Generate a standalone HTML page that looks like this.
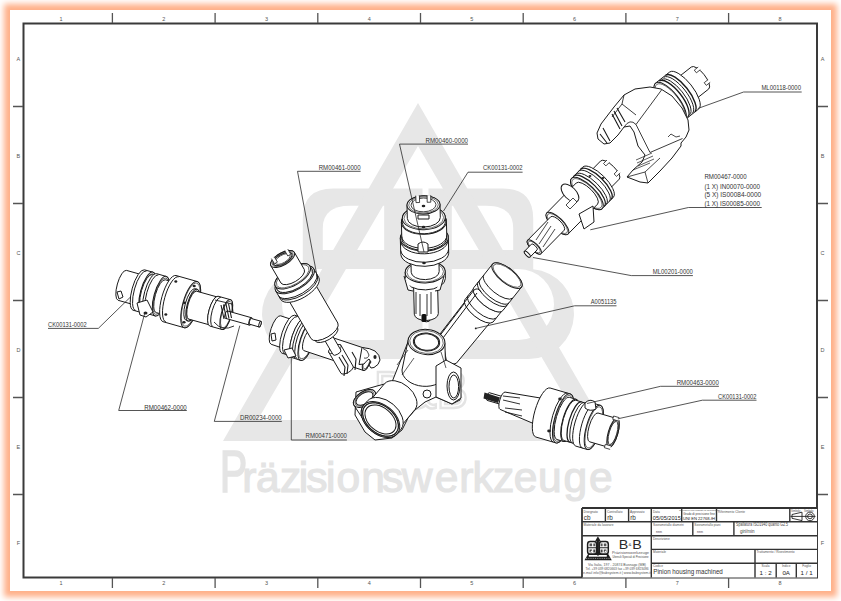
<!DOCTYPE html>
<html><head><meta charset="utf-8">
<style>
html,body{margin:0;padding:0;background:#fff;width:841px;height:601px;overflow:hidden;}
#paper{position:absolute;left:10px;top:10px;width:821px;height:581px;background:#fff;
box-shadow:0 0 6px 6px rgb(255,176,137);}
svg{position:absolute;left:0;top:0;}
text{font-family:"Liberation Sans",sans-serif;}
</style></head><body>
<div id="paper"></div>
<svg width="841" height="601" viewBox="0 0 841 601">
<!-- WATERMARK -->
<g id="wm" fill="#e7e7e7">
<!-- B region -->
<path d="M418 188.5H333Q302.8 188.5 302.8 218.5V269.2A45 45 0 0 0 307 359H529A45 45 0 0 0 533.2 269.2V218.5Q533.2 188.5 503 188.5Z"/>
<g fill="#fff">
<path d="M350 205.7H384.2V250H322.8V228Q322.8 205.7 350 205.7Z"/>
<path d="M486 205.7H451.8V250H513.2V228Q513.2 205.7 486 205.7Z"/>
<path d="M384.2 269H317.5A35.5 35.5 0 0 0 317.5 340H384.2Z"/>
<path d="M451.8 269H518.5A35.5 35.5 0 0 1 518.5 340H451.8Z"/>
<rect x="422.5" y="186" width="6" height="173"/>
</g>
<!-- triangle band -->
<path fill-rule="evenodd" d="M418 103L613 441H223Z M418 146L257.6 420H578.4Z"/>
<!-- 1985 -->
<text x="421" y="408" font-size="52" text-anchor="middle" fill="none" stroke="#e4e4e4" stroke-width="2.5" textLength="94" lengthAdjust="spacingAndGlyphs">B&amp;B</text>
<!-- text -->
<g fill="#e4e4e4" stroke="#e4e4e4" stroke-width="1.2" text-anchor="middle" font-size="42.5">
<text x="0" y="0" font-size="59" stroke-width="1.6" transform="translate(233.6 492) scale(0.7 1)">P</text>
<text x="249.25" y="492">r</text>
<text x="267.9" y="492">ä</text>
<text x="290.55" y="492">z</text>
<text x="303.55" y="492">i</text>
<text x="316.95" y="492">s</text>
<text x="330.65" y="492">i</text>
<text x="348.2" y="492">o</text>
<text x="373.1" y="492">n</text>
<text x="392.5" y="492">s</text>
<text x="417.15" y="492">w</text>
<text x="446.6" y="492">e</text>
<text x="466.25" y="492">r</text>
<text x="483.1" y="492">k</text>
<text x="503.6" y="492">z</text>
<text x="525.6" y="492">e</text>
<text x="549.7" y="492">u</text>
<text x="575.2" y="492">g</text>
<text x="600.75" y="492">e</text>
</g>
</g>
<!-- FRAME -->
<g id="frame" fill="none" stroke="#3a3a3a">
<rect x="23.5" y="23.5" width="793.5" height="554" stroke-width="2"/>
<g stroke="#555" stroke-width="1.3">
<path d="M112.4 13V23M215.1 13V23M317.8 13V23M420.5 13V23M523.2 13V23M625.9 13V23M728.6 13V23"/>
<path d="M112.4 578V588M215.1 578V588M317.8 578V588M420.5 578V588M523.2 578V588M625.9 578V588M728.6 578V588"/>
<path d="M13 106.5H23M13 203.5H23M13 300.5H23M13 397.5H23M13 494.5H23"/>
<path d="M818 106.5H828M818 203.5H828M818 300.5H828M818 397.5H828M818 494.5H828"/>
</g>
</g>
<g id="zonelabels" font-size="5.5" fill="#555" text-anchor="middle">
<text x="61.1" y="20.6">1</text><text x="163.8" y="20.6">2</text><text x="266.5" y="20.6">3</text><text x="369.2" y="20.6">4</text>
<text x="471.9" y="20.6">5</text><text x="574.6" y="20.6">6</text><text x="677.3" y="20.6">7</text><text x="780" y="20.6">8</text>
<text x="61.1" y="584.8">1</text><text x="163.8" y="584.8">2</text><text x="266.5" y="584.8">3</text><text x="369.2" y="584.8">4</text>
<text x="471.9" y="584.8">5</text><text x="574.6" y="584.8">6</text><text x="677.3" y="584.8">7</text><text x="780" y="584.8">8</text>
<text x="18.4" y="60.5">A</text><text x="18.4" y="157.5">B</text><text x="18.4" y="254.5">C</text><text x="18.4" y="351.5">D</text><text x="18.4" y="448.5">E</text><text x="18.4" y="544.5">F</text>
<text x="822.5" y="60.5">A</text><text x="822.5" y="157.5">B</text><text x="822.5" y="254.5">C</text><text x="822.5" y="351.5">D</text><text x="822.5" y="448.5">E</text><text x="822.5" y="544.5">F</text>
</g>
<!--PARTS-->
<g id="parts">
<path d="M118.1 300.3L134.5 304.9A5.1 15.5 15.7 0 0 142.9 275L126.5 270.4A5.1 15.5 15.7 0 0 118.1 300.3Z" fill="#fff" stroke="#1a1a1a" stroke-width="1.0"/>
<ellipse cx="138.7" cy="290" rx="5.1" ry="15.5" transform="rotate(15.7 138.7 290)" fill="#fff" stroke="#1a1a1a" stroke-width="1.0"/>
<ellipse cx="138.7" cy="290" rx="4.6" ry="13.8" transform="rotate(15.7 138.7 290)" fill="none" stroke="#1a1a1a" stroke-width="0.6"/>
<path d="M133 310.2L141.7 312.6A6.9 21 15.7 0 0 153 272.2L144.4 269.8A6.9 21 15.7 0 0 133 310.2Z" fill="#fff" stroke="#1a1a1a" stroke-width="1.0"/>
<ellipse cx="147.4" cy="292.4" rx="6.9" ry="21" transform="rotate(15.7 147.4 292.4)" fill="#fff" stroke="#1a1a1a" stroke-width="1.0"/>
<ellipse cx="147.4" cy="292.4" rx="6.4" ry="19.3" transform="rotate(15.7 147.4 292.4)" fill="none" stroke="#1a1a1a" stroke-width="0.6"/>
<path d="M142.3 310.2L146.2 311.3A6.1 18.5 15.7 0 0 156.2 275.7L152.4 274.6A6.1 18.5 15.7 0 0 142.3 310.2Z" fill="#fff" stroke="#1a1a1a" stroke-width="1.0"/>
<ellipse cx="151.2" cy="293.5" rx="6.1" ry="18.5" transform="rotate(15.7 151.2 293.5)" fill="#fff" stroke="#1a1a1a" stroke-width="1.0"/>
<ellipse cx="151.2" cy="293.5" rx="5.5" ry="16.8" transform="rotate(15.7 151.2 293.5)" fill="none" stroke="#1a1a1a" stroke-width="0.6"/>
<path d="M145.7 313.2L155.3 315.9A6.8 20.5 15.7 0 0 166.4 276.5L156.8 273.7A6.8 20.5 15.7 0 0 145.7 313.2Z" fill="#fff" stroke="#1a1a1a" stroke-width="1.0"/>
<ellipse cx="160.8" cy="296.2" rx="6.8" ry="20.5" transform="rotate(15.7 160.8 296.2)" fill="#fff" stroke="#1a1a1a" stroke-width="1.0"/>
<ellipse cx="160.8" cy="296.2" rx="6.2" ry="18.8" transform="rotate(15.7 160.8 296.2)" fill="none" stroke="#1a1a1a" stroke-width="0.6"/>
<path d="M156.2 312.6L164.9 315A5.6 17 15.7 0 0 174.1 282.3L165.4 279.8A5.6 17 15.7 0 0 156.2 312.6Z" fill="#fff" stroke="#1a1a1a" stroke-width="1.0"/>
<ellipse cx="169.5" cy="298.6" rx="5.6" ry="17" transform="rotate(15.7 169.5 298.6)" fill="#fff" stroke="#1a1a1a" stroke-width="1.0"/>
<ellipse cx="169.5" cy="298.6" rx="5" ry="15.3" transform="rotate(15.7 169.5 298.6)" fill="none" stroke="#1a1a1a" stroke-width="0.6"/>
<path d="M163 321.7L184.2 327.7A7.9 24 15.7 0 0 197.2 281.5L176 275.5A7.9 24 15.7 0 0 163 321.7Z" fill="#fff" stroke="#1a1a1a" stroke-width="1.0"/>
<ellipse cx="190.7" cy="304.6" rx="7.9" ry="24" transform="rotate(15.7 190.7 304.6)" fill="#fff" stroke="#1a1a1a" stroke-width="1.0"/>
<ellipse cx="190.7" cy="304.6" rx="7.4" ry="22.3" transform="rotate(15.7 190.7 304.6)" fill="none" stroke="#1a1a1a" stroke-width="0.6"/>
<path d="M186.2 320.5L188.1 321A5.4 16.5 15.7 0 0 197.1 289.2L195.1 288.7A5.4 16.5 15.7 0 0 186.2 320.5Z" fill="#fff" stroke="#1a1a1a" stroke-width="1.0"/>
<ellipse cx="192.6" cy="305.1" rx="5.4" ry="16.5" transform="rotate(15.7 192.6 305.1)" fill="#fff" stroke="#1a1a1a" stroke-width="1.0"/>
<ellipse cx="192.6" cy="305.1" rx="4.9" ry="14.8" transform="rotate(15.7 192.6 305.1)" fill="none" stroke="#1a1a1a" stroke-width="0.6"/>
<path d="M188.7 319.1L209.9 325A4.8 14.5 15.7 0 0 217.7 297.1L196.5 291.2A4.8 14.5 15.7 0 0 188.7 319.1Z" fill="#fff" stroke="#1a1a1a" stroke-width="1.0"/>
<ellipse cx="213.8" cy="311.1" rx="4.8" ry="14.5" transform="rotate(15.7 213.8 311.1)" fill="#fff" stroke="#1a1a1a" stroke-width="1.0"/>
<ellipse cx="213.8" cy="311.1" rx="4.2" ry="12.8" transform="rotate(15.7 213.8 311.1)" fill="none" stroke="#1a1a1a" stroke-width="0.6"/>
<path d="M209.6 326L222.1 329.5A5.1 15.5 15.7 0 0 230.5 299.7L218 296.2A5.1 15.5 15.7 0 0 209.6 326Z" fill="#fff" stroke="#1a1a1a" stroke-width="1.0"/>
<ellipse cx="226.3" cy="314.6" rx="5.1" ry="15.5" transform="rotate(15.7 226.3 314.6)" fill="#fff" stroke="#1a1a1a" stroke-width="1.0"/>
<ellipse cx="226.3" cy="314.6" rx="4.6" ry="13.8" transform="rotate(15.7 226.3 314.6)" fill="none" stroke="#1a1a1a" stroke-width="0.6"/>
<path d="M225.3 318.3L249.3 325A1.3 3.8 15.7 0 0 251.4 317.7L227.3 310.9A1.3 3.8 15.7 0 0 225.3 318.3Z" fill="#fff" stroke="#1a1a1a" stroke-width="1.0"/>
<ellipse cx="250.4" cy="321.4" rx="1.3" ry="3.8" transform="rotate(15.7 250.4 321.4)" fill="#fff" stroke="#1a1a1a" stroke-width="1.0"/>
<path d="M249.6 324.2L259.2 327A1 3 15.7 0 0 260.8 321.2L251.2 318.5A1 3 15.7 0 0 249.6 324.2Z" fill="#fff" stroke="#1a1a1a" stroke-width="1.0"/>
<ellipse cx="260" cy="324.1" rx="1" ry="3" transform="rotate(15.7 260 324.1)" fill="#fff" stroke="#1a1a1a" stroke-width="1.0"/>
<path d="M135.6 310.4A6.8 20.5 15.7 0 1 146.6 270.9" fill="none" stroke="#1a1a1a" stroke-width="1.0"/>
<path d="M147.7 313.3A6.6 20 15.7 0 1 158.5 274.8" fill="none" stroke="#1a1a1a" stroke-width="1.0"/>
<path d="M166 322.1A7.8 23.5 15.7 0 1 178.7 276.8" fill="none" stroke="#1a1a1a" stroke-width="1.0"/>
<path d="M212.6 326.5A5 15.2 15.7 0 1 220.8 297.3" fill="none" stroke="#1a1a1a" stroke-width="1.0"/>
<ellipse cx="194.2" cy="286" rx="1.6" ry="1.3" fill="#222"/>
<ellipse cx="184.5" cy="302.8" rx="1.6" ry="1.3" fill="#222"/>
<ellipse cx="184" cy="322.3" rx="1.6" ry="1.3" fill="#222"/>
<ellipse cx="175.8" cy="281.5" rx="1.5" ry="1.2" fill="#222"/><ellipse cx="165.8" cy="314.5" rx="1.5" ry="1.2" fill="#222"/>
<path d="M117 292L121 291L123 297L119 299Z" fill="#fff" stroke="#1a1a1a" stroke-width="1.0"/>
<path d="M137 303L147 300L153 312L146 317L140 315Z" fill="#fff" stroke="#1a1a1a" stroke-width="1.0"/>
<ellipse cx="145.5" cy="313" rx="2" ry="1.6" fill="#222"/>
<path d="M221 305L224 319M223.5 304.5L226.5 319M226 304L229 318.5M228.5 303.5L231.5 318" fill="none" stroke="#1a1a1a" stroke-width="1.1"/>
<path d="M215 300L232 304L233 312" fill="none" stroke="#1a1a1a" stroke-width="0.9"/>
<path d="M214 322Q222 332 234 326" fill="none" stroke="#1a1a1a" stroke-width="0.9"/>
<path d="M271.2 344.3L283.5 348.4A5 15 18.4 0 0 293 319.9L280.6 315.8A5 15 18.4 0 0 271.2 344.3Z" fill="#fff" stroke="#1a1a1a" stroke-width="1.0"/>
<ellipse cx="288.2" cy="334.1" rx="5" ry="15" transform="rotate(18.4 288.2 334.1)" fill="#fff" stroke="#1a1a1a" stroke-width="1.0"/>
<ellipse cx="288.2" cy="334.1" rx="4.4" ry="13.3" transform="rotate(18.4 288.2 334.1)" fill="none" stroke="#1a1a1a" stroke-width="0.6"/>
<path d="M281.9 353.1L292.3 356.6A6.6 20 18.4 0 0 305 318.6L294.5 315.2A6.6 20 18.4 0 0 281.9 353.1Z" fill="#fff" stroke="#1a1a1a" stroke-width="1.0"/>
<ellipse cx="298.7" cy="337.6" rx="6.6" ry="20" transform="rotate(18.4 298.7 337.6)" fill="#fff" stroke="#1a1a1a" stroke-width="1.0"/>
<ellipse cx="298.7" cy="337.6" rx="6" ry="18.3" transform="rotate(18.4 298.7 337.6)" fill="none" stroke="#1a1a1a" stroke-width="0.6"/>
<path d="M292 357.5L300.6 360.4A6.9 21 18.4 0 0 313.8 320.5L305.3 317.7A6.9 21 18.4 0 0 292 357.5Z" fill="#fff" stroke="#1a1a1a" stroke-width="1.0"/>
<ellipse cx="307.2" cy="340.4" rx="6.9" ry="21" transform="rotate(18.4 307.2 340.4)" fill="#fff" stroke="#1a1a1a" stroke-width="1.0"/>
<ellipse cx="307.2" cy="340.4" rx="6.4" ry="19.3" transform="rotate(18.4 307.2 340.4)" fill="none" stroke="#1a1a1a" stroke-width="0.6"/>
<path d="M303.8 350.6L363.6 370.5A3.5 10.7 18.4 0 0 370.4 350.2L310.6 330.3A3.5 10.7 18.4 0 0 303.8 350.6Z" fill="#fff" stroke="#1a1a1a" stroke-width="1.0"/>
<ellipse cx="367" cy="360.3" rx="3.5" ry="10.7" transform="rotate(18.4 367 360.3)" fill="#fff" stroke="#1a1a1a" stroke-width="1.0"/>
<ellipse cx="367" cy="360.3" rx="3" ry="9" transform="rotate(18.4 367 360.3)" fill="none" stroke="#1a1a1a" stroke-width="0.6"/>
<path d="M284.9 353.6A6.4 19.5 18.4 0 1 297.2 316.6" fill="none" stroke="#1a1a1a" stroke-width="1.0"/>
<path d="M295 358A6.8 20.5 18.4 0 1 308 319.1" fill="none" stroke="#1a1a1a" stroke-width="1.0"/>
<path d="M297.4 358.8A6.8 20.5 18.4 0 1 310.4 319.9" fill="none" stroke="#1a1a1a" stroke-width="1.0"/>
<path d="M271 334L275 333L276 340L272 341Z" fill="#fff" stroke="#1a1a1a" stroke-width="1.0"/>
<path d="M284 350L292 348L296 356L288 358Z" fill="#fff" stroke="#1a1a1a" stroke-width="1.0"/>
<path d="M362 347.5Q370 348 375 351Q380 355 380 360Q379 365 374 367.5L371 368L369 365L371 362L369 359Q366 361 364 364L359 364.5Z" fill="#fff" stroke="#1a1a1a" stroke-width="1.0"/>
<path d="M363 348.5Q368 350 369 355Q368 359 364 358" fill="none" stroke="#1a1a1a" stroke-width="0.8"/>
<ellipse cx="375" cy="357" rx="1.6" ry="2" fill="#222"/>
<path d="M328.9 352.4L340.9 373.2A3.1 7 59.8 0 0 353 366.1L341 345.4A3.1 7 59.8 0 0 328.9 352.4Z" fill="#fff" stroke="#1a1a1a" stroke-width="1.0"/>
<ellipse cx="334.9" cy="348.9" rx="3.1" ry="7" transform="rotate(59.8 334.9 348.9)" fill="#fff" stroke="#1a1a1a" stroke-width="1.0"/>
<path d="M322.5 336.5L333 354.6A2 4.5 59.8 0 0 340.8 350.1L330.3 332A2 4.5 59.8 0 0 322.5 336.5Z" fill="#fff" stroke="#1a1a1a" stroke-width="1.0"/>
<ellipse cx="326.4" cy="334.2" rx="2" ry="4.5" transform="rotate(59.8 326.4 334.2)" fill="#fff" stroke="#1a1a1a" stroke-width="1.0"/>
<path d="M312.3 337.8L315.1 340.8A5.9 13 59.8 0 0 337.6 327.7L336.5 323.7A6.3 14 59.8 0 0 312.3 337.8Z" fill="#fff" stroke="#1a1a1a" stroke-width="1.0"/>
<ellipse cx="324.4" cy="330.8" rx="6.3" ry="14" transform="rotate(59.8 324.4 330.8)" fill="#fff" stroke="#1a1a1a" stroke-width="1.0"/>
<ellipse cx="324.4" cy="330.8" rx="5.5" ry="12.3" transform="rotate(59.8 324.4 330.8)" fill="none" stroke="#1a1a1a" stroke-width="0.6"/>
<path d="M286.3 296.2L311 338.6A7 15.5 59.8 0 0 337.8 323L313.1 280.6A7 15.5 59.8 0 0 286.3 296.2Z" fill="#fff" stroke="#1a1a1a" stroke-width="1.0"/>
<ellipse cx="299.7" cy="288.4" rx="7" ry="15.5" transform="rotate(59.8 299.7 288.4)" fill="#fff" stroke="#1a1a1a" stroke-width="1.0"/>
<ellipse cx="299.7" cy="288.4" rx="6.2" ry="13.8" transform="rotate(59.8 299.7 288.4)" fill="none" stroke="#1a1a1a" stroke-width="0.6"/>
<path d="M275.7 290.8L280.7 299.5A9.9 22 59.8 0 0 318.7 277.3L313.7 268.7A9.9 22 59.8 0 0 275.7 290.8Z" fill="#fff" stroke="#1a1a1a" stroke-width="1.0"/>
<ellipse cx="294.7" cy="279.8" rx="9.9" ry="22" transform="rotate(59.8 294.7 279.8)" fill="#fff" stroke="#1a1a1a" stroke-width="1.0"/>
<ellipse cx="294.7" cy="279.8" rx="9.1" ry="20.3" transform="rotate(59.8 294.7 279.8)" fill="none" stroke="#1a1a1a" stroke-width="0.6"/>
<path d="M275.4 286.4L277.4 289.8A9 20 59.8 0 0 312 269.7L310 266.2A9 20 59.8 0 0 275.4 286.4Z" fill="#fff" stroke="#1a1a1a" stroke-width="1.0"/>
<ellipse cx="292.7" cy="276.3" rx="9" ry="20" transform="rotate(59.8 292.7 276.3)" fill="#fff" stroke="#1a1a1a" stroke-width="1.0"/>
<ellipse cx="292.7" cy="276.3" rx="8.2" ry="18.3" transform="rotate(59.8 292.7 276.3)" fill="none" stroke="#1a1a1a" stroke-width="0.6"/>
<path d="M270.9 265.8L281 283.1A6.1 13.5 59.8 0 0 304.3 269.5L294.3 252.2A6.1 13.5 59.8 0 0 270.9 265.8Z" fill="#fff" stroke="#1a1a1a" stroke-width="1.0"/>
<ellipse cx="282.6" cy="259" rx="6.1" ry="13.5" transform="rotate(59.8 282.6 259)" fill="#fff" stroke="#1a1a1a" stroke-width="1.0"/>
<ellipse cx="282.6" cy="259" rx="5.3" ry="11.8" transform="rotate(59.8 282.6 259)" fill="none" stroke="#1a1a1a" stroke-width="0.6"/>
<ellipse cx="282.6" cy="259" rx="4.7" ry="10.5" transform="rotate(59.8 282.6 259)" fill="#fff" stroke="#1a1a1a" stroke-width="1.0"/>
<ellipse cx="282.6" cy="259" rx="3.8" ry="8.5" transform="rotate(59.8 282.6 259)" fill="none" stroke="#1a1a1a" stroke-width="0.7"/>
<path d="M278.7 296A9.9 22 59.8 0 0 316.7 273.9" fill="none" stroke="#1a1a1a" stroke-width="1.0"/>
<path d="M279.9 297.6A9.8 21.8 59.8 0 0 317.5 275.7" fill="none" stroke="#1a1a1a" stroke-width="1.0"/>
<path d="M287.8 249.1L290.8 254.3L287.8 256L284.8 250.8" fill="#fff" stroke="#1a1a1a" stroke-width="0.8"/>
<path d="M274.4 256.9L277.4 262.1L274.5 263.8L271.4 258.6" fill="#fff" stroke="#1a1a1a" stroke-width="0.8"/>
<path d="M339 357L345 367L344 376M342 355L348 365L347 374M352 352L356 359L355 370" fill="none" stroke="#1a1a1a" stroke-width="1.1"/>
<path d="M422.8 314L423 320A1.9 3.5 88.5 0 0 430 319.8L429.8 313.8A1.9 3.5 88.5 0 0 422.8 314Z" fill="#fff" stroke="#1a1a1a" stroke-width="1.0"/>
<ellipse cx="426.3" cy="313.9" rx="1.9" ry="3.5" transform="rotate(88.5 426.3 313.9)" fill="#fff" stroke="#1a1a1a" stroke-width="1.0"/>
<path d="M413.4 279.2L414.3 314.2A6.6 12 88.5 0 0 438.3 313.6L437.4 278.6A6.6 12 88.5 0 0 413.4 279.2Z" fill="#fff" stroke="#1a1a1a" stroke-width="1.0"/>
<ellipse cx="425.4" cy="278.9" rx="6.6" ry="12" transform="rotate(88.5 425.4 278.9)" fill="#fff" stroke="#1a1a1a" stroke-width="1.0"/>
<ellipse cx="425.4" cy="278.9" rx="5.7" ry="10.3" transform="rotate(88.5 425.4 278.9)" fill="none" stroke="#1a1a1a" stroke-width="0.6"/>
<path d="M405.2 272.4L405.4 279.4A11 20 88.5 0 0 445.4 278.4L445.2 271.4A11 20 88.5 0 0 405.2 272.4Z" fill="#fff" stroke="#1a1a1a" stroke-width="1.0"/>
<ellipse cx="425.2" cy="271.9" rx="11" ry="20" transform="rotate(88.5 425.2 271.9)" fill="#fff" stroke="#1a1a1a" stroke-width="1.0"/>
<ellipse cx="425.2" cy="271.9" rx="10.1" ry="18.3" transform="rotate(88.5 425.2 271.9)" fill="none" stroke="#1a1a1a" stroke-width="0.6"/>
<path d="M410.8 254.3L411.2 272.3A7.7 14 88.5 0 0 439.2 271.5L438.7 253.5A7.7 14 88.5 0 0 410.8 254.3Z" fill="#fff" stroke="#1a1a1a" stroke-width="1.0"/>
<ellipse cx="424.7" cy="253.9" rx="7.7" ry="14" transform="rotate(88.5 424.7 253.9)" fill="#fff" stroke="#1a1a1a" stroke-width="1.0"/>
<ellipse cx="424.7" cy="253.9" rx="6.8" ry="12.3" transform="rotate(88.5 424.7 253.9)" fill="none" stroke="#1a1a1a" stroke-width="0.6"/>
<path d="M400.3 238.5L400.8 254.5A13.2 24 88.5 0 0 448.7 253.3L448.3 237.3A13.2 24 88.5 0 0 400.3 238.5Z" fill="#fff" stroke="#1a1a1a" stroke-width="1.0"/>
<ellipse cx="424.3" cy="237.9" rx="13.2" ry="24" transform="rotate(88.5 424.3 237.9)" fill="#fff" stroke="#1a1a1a" stroke-width="1.0"/>
<ellipse cx="424.3" cy="237.9" rx="12.3" ry="22.3" transform="rotate(88.5 424.3 237.9)" fill="none" stroke="#1a1a1a" stroke-width="0.6"/>
<path d="M401.4 222.5L401.8 238.5A12.4 22.5 88.5 0 0 446.8 237.3L446.4 221.3A12.4 22.5 88.5 0 0 401.4 222.5Z" fill="#fff" stroke="#1a1a1a" stroke-width="1.0"/>
<ellipse cx="423.9" cy="221.9" rx="12.4" ry="22.5" transform="rotate(88.5 423.9 221.9)" fill="#fff" stroke="#1a1a1a" stroke-width="1.0"/>
<ellipse cx="423.9" cy="221.9" rx="11.4" ry="20.8" transform="rotate(88.5 423.9 221.9)" fill="none" stroke="#1a1a1a" stroke-width="0.6"/>
<path d="M402.3 218.5L402.4 222.5A11.8 21.5 88.5 0 0 445.4 221.4L445.3 217.4A11.8 21.5 88.5 0 0 402.3 218.5Z" fill="#fff" stroke="#1a1a1a" stroke-width="1.0"/>
<ellipse cx="423.8" cy="217.9" rx="11.8" ry="21.5" transform="rotate(88.5 423.8 217.9)" fill="#fff" stroke="#1a1a1a" stroke-width="1.0"/>
<ellipse cx="423.8" cy="217.9" rx="10.9" ry="19.8" transform="rotate(88.5 423.8 217.9)" fill="none" stroke="#1a1a1a" stroke-width="0.6"/>
<path d="M407 205.4L407.3 218.4A9.1 16.5 88.5 0 0 440.3 217.5L440 204.5A9.1 16.5 88.5 0 0 407 205.4Z" fill="#fff" stroke="#1a1a1a" stroke-width="1.0"/>
<ellipse cx="423.5" cy="204.9" rx="9.1" ry="16.5" transform="rotate(88.5 423.5 204.9)" fill="#fff" stroke="#1a1a1a" stroke-width="1.0"/>
<ellipse cx="423.5" cy="204.9" rx="8.1" ry="14.8" transform="rotate(88.5 423.5 204.9)" fill="none" stroke="#1a1a1a" stroke-width="0.6"/>
<ellipse cx="423.5" cy="204.9" rx="6.9" ry="12.5" transform="rotate(88.5 423.5 204.9)" fill="#fff" stroke="#1a1a1a" stroke-width="0.8"/>
<ellipse cx="423.5" cy="206" rx="1.8" ry="1.3" fill="#222"/><ellipse cx="423.5" cy="227" rx="1.8" ry="1.3" fill="#222"/><ellipse cx="424" cy="263" rx="1.8" ry="1.3" fill="#222"/>
<path d="M430.7 195.2L430.8 202.2L427.2 202.3L427.1 195.3" fill="#fff" stroke="#1a1a1a" stroke-width="0.8"/>
<path d="M419.4 195.5L419.6 202.5L416 202.6L415.8 195.6" fill="#fff" stroke="#1a1a1a" stroke-width="0.8"/>
<path d="M418 215H429V219H418Z" fill="#fff" stroke="#1a1a1a" stroke-width="1.0"/>
<path d="M401.8 236.5A12.4 22.5 88.5 0 0 446.8 235.3" fill="none" stroke="#1a1a1a" stroke-width="1.0"/>
<path d="M400.9 241.5A12.9 23.5 88.5 0 0 447.9 240.3" fill="none" stroke="#1a1a1a" stroke-width="1.0"/>
<path d="M400.7 250.5A13.2 24 88.5 0 0 448.6 249.3" fill="none" stroke="#1a1a1a" stroke-width="1.0"/>
<path d="M418 244Q423 240 428 244V252H418Z" fill="#fff" stroke="#1a1a1a" stroke-width="1.0"/>
<path d="M404 276L408 290L413 291M444 276L440 290L435 291" fill="#fff" stroke="#1a1a1a" stroke-width="1.0"/>
<path d="M416 292V314M431 292V314M420 294V316M427 294V316" fill="none" stroke="#1a1a1a" stroke-width="0.9"/>
<rect x="421.5" y="314" width="5" height="8" rx="1.5" fill="#111"/>
<path d="M456.4 363.2L491.5 320.8A6.4 16 -51.5 0 0 466.4 300.9L433 344.6A6 15 -51.5 0 0 456.4 363.2Z" fill="#fff" stroke="#1a1a1a" stroke-width="1.0"/>
<ellipse cx="478.9" cy="310.9" rx="6.4" ry="16" transform="rotate(-51.5 478.9 310.9)" fill="#fff" stroke="#1a1a1a" stroke-width="1.0"/>
<ellipse cx="478.9" cy="310.9" rx="5.7" ry="14.3" transform="rotate(-51.5 478.9 310.9)" fill="none" stroke="#1a1a1a" stroke-width="0.6"/>
<path d="M493 322.1L502.4 310.3A7.2 18 -51.5 0 0 474.2 287.9L464.9 299.7A7.2 18 -51.5 0 0 493 322.1Z" fill="#fff" stroke="#1a1a1a" stroke-width="1.0"/>
<ellipse cx="488.3" cy="299.1" rx="7.2" ry="18" transform="rotate(-51.5 488.3 299.1)" fill="#fff" stroke="#1a1a1a" stroke-width="1.0"/>
<ellipse cx="488.3" cy="299.1" rx="6.5" ry="16.3" transform="rotate(-51.5 488.3 299.1)" fill="none" stroke="#1a1a1a" stroke-width="0.6"/>
<path d="M502.8 310.6L521.4 287.2A7.4 18.5 -51.5 0 0 492.5 264.1L473.8 287.6A7.4 18.5 -51.5 0 0 502.8 310.6Z" fill="#fff" stroke="#1a1a1a" stroke-width="1.0"/>
<ellipse cx="507" cy="275.6" rx="7.4" ry="18.5" transform="rotate(-51.5 507 275.6)" fill="#fff" stroke="#1a1a1a" stroke-width="1.0"/>
<ellipse cx="507" cy="275.6" rx="6.7" ry="16.8" transform="rotate(-51.5 507 275.6)" fill="none" stroke="#1a1a1a" stroke-width="0.6"/>
<path d="M507.1 305.2A7.4 18.5 -51.5 0 1 478.2 282.1" fill="none" stroke="#1a1a1a" stroke-width="1.0"/>
<path d="M509 302.8A7.4 18.5 -51.5 0 1 480 279.8" fill="none" stroke="#1a1a1a" stroke-width="1.0"/>
<path d="M512.7 298.1A7.4 18.5 -51.5 0 1 483.8 275.1" fill="none" stroke="#1a1a1a" stroke-width="1.0"/>
<path d="M496.1 318.1A7.2 18 -51.5 0 1 468 295.7" fill="none" stroke="#1a1a1a" stroke-width="1.0"/>
<path d="M440 334L474 290M443 338L477 293M474 290Q478 287 481 292" fill="none" stroke="#1a1a1a" stroke-width="1.0"/>
<path d="M356 392L377 386L392 382L400 362L408 342L444 348L447 364L460 372L460 400L452 404L436 397L425 402L415 410L408 418L402 430L392 438L375 440L365 432L355 415Z" fill="#fff" stroke="#1a1a1a" stroke-width="1.0"/>
<path d="M354 405.3L369.4 428.8A6.9 12.5 56.8 0 0 390.3 415.1L375 391.7A6.9 12.5 56.8 0 0 354 405.3Z" fill="#fff" stroke="#1a1a1a" stroke-width="1.0"/>
<ellipse cx="364.5" cy="398.5" rx="6.9" ry="12.5" transform="rotate(56.8 364.5 398.5)" fill="#fff" stroke="#1a1a1a" stroke-width="1.0"/>
<ellipse cx="364.5" cy="398.5" rx="5.9" ry="10.8" transform="rotate(56.8 364.5 398.5)" fill="none" stroke="#1a1a1a" stroke-width="0.6"/>
<ellipse cx="364.5" cy="398.5" rx="5.2" ry="9.5" transform="rotate(56.8 364.5 398.5)" fill="#fff" stroke="#1a1a1a" stroke-width="1.0"/>
<path d="M399.7 427.8L415.1 409.4A13.2 20 -50 0 0 384.5 383.7L369 402A13.2 20 -50 0 0 399.7 427.8Z" fill="#fff" stroke="#1a1a1a" stroke-width="1.0"/>
<ellipse cx="384.4" cy="414.9" rx="13.2" ry="20" transform="rotate(-50 384.4 414.9)" fill="#fff" stroke="#1a1a1a" stroke-width="1.0"/>
<ellipse cx="384.4" cy="414.9" rx="12.1" ry="18.3" transform="rotate(-50 384.4 414.9)" fill="none" stroke="#1a1a1a" stroke-width="0.6"/>
<path d="M397.4 433.6L401.2 429A14.5 22 -50 0 0 367.5 400.8L363.6 405.4A14.5 22 -50 0 0 397.4 433.6Z" fill="#fff" stroke="#1a1a1a" stroke-width="1.0"/>
<ellipse cx="380.5" cy="419.5" rx="14.5" ry="22" transform="rotate(-50 380.5 419.5)" fill="#fff" stroke="#1a1a1a" stroke-width="1.0"/>
<ellipse cx="380.5" cy="419.5" rx="13.4" ry="20.3" transform="rotate(-50 380.5 419.5)" fill="none" stroke="#1a1a1a" stroke-width="0.6"/>
<ellipse cx="380.5" cy="419.5" rx="13.5" ry="20.5" transform="rotate(-50 380.5 419.5)" fill="none" stroke="#1a1a1a" stroke-width="1.0"/>
<ellipse cx="380.5" cy="419.5" rx="11.7" ry="17.7" transform="rotate(-50 380.5 419.5)" fill="#fff" stroke="#1a1a1a" stroke-width="1.0"/>
<path d="M408.1 340.4L402 370A15 22 95 0 0 445.8 373.8L444.9 343.6A12.6 18.5 95 0 0 408.1 340.4Z" fill="#fff" stroke="#1a1a1a" stroke-width="1.0"/>
<ellipse cx="426.5" cy="342" rx="12.6" ry="18.5" transform="rotate(95 426.5 342)" fill="#fff" stroke="#1a1a1a" stroke-width="1.0"/>
<ellipse cx="426.5" cy="342" rx="11.4" ry="16.8" transform="rotate(95 426.5 342)" fill="none" stroke="#1a1a1a" stroke-width="0.6"/>
<ellipse cx="426.5" cy="342" rx="9" ry="13.2" transform="rotate(95 426.5 342)" fill="#fff" stroke="#1a1a1a" stroke-width="1.0"/>
<ellipse cx="426.5" cy="342" rx="8.3" ry="12.2" transform="rotate(95 426.5 342)" fill="none" stroke="#1a1a1a" stroke-width="1.0"/>
<path d="M436 366L446 360L461 368L461 398L452 404L436 397Z" fill="#fff" stroke="#1a1a1a" stroke-width="1.0"/>
<ellipse cx="453.5" cy="386" rx="6.5" ry="14" fill="#fff" stroke="#1a1a1a" stroke-width="1.0"/>
<ellipse cx="453.8" cy="386.5" rx="4.8" ry="11.5" fill="none" stroke="#1a1a1a" stroke-width="1.0"/>
<circle cx="427" cy="394" r="4" fill="#fff" stroke="#1a1a1a" stroke-width="1.0"/>
<path d="M397 365L408 350M402 375L414 358M441 352L446 368" fill="none" stroke="#1a1a1a" stroke-width="0.7"/>
<path d="M600.7 160.9L588.8 173A4.9 13 134.5 0 0 607.4 191.2L619.3 179.1A4.9 13 134.5 0 0 600.7 160.9Z" fill="#fff" stroke="#1a1a1a" stroke-width="1.0"/>
<ellipse cx="598.1" cy="182.1" rx="4.9" ry="13" transform="rotate(134.5 598.1 182.1)" fill="#fff" stroke="#1a1a1a" stroke-width="1.0"/>
<ellipse cx="598.1" cy="182.1" rx="4.3" ry="11.3" transform="rotate(134.5 598.1 182.1)" fill="none" stroke="#1a1a1a" stroke-width="0.6"/>
<path d="M582.7 167.1L571.5 178.5A8.2 21.5 134.5 0 0 602.2 208.6L613.4 197.2A8.2 21.5 134.5 0 0 582.7 167.1Z" fill="#fff" stroke="#1a1a1a" stroke-width="1.0"/>
<ellipse cx="586.9" cy="193.5" rx="8.2" ry="21.5" transform="rotate(134.5 586.9 193.5)" fill="#fff" stroke="#1a1a1a" stroke-width="1.0"/>
<ellipse cx="586.9" cy="193.5" rx="7.5" ry="19.8" transform="rotate(134.5 586.9 193.5)" fill="none" stroke="#1a1a1a" stroke-width="0.6"/>
<path d="M576.2 183L546.7 213A5.7 15 134.5 0 0 568.1 234L597.6 204.1A5.7 15 134.5 0 0 576.2 183Z" fill="#fff" stroke="#1a1a1a" stroke-width="1.0"/>
<ellipse cx="557.4" cy="223.5" rx="5.7" ry="15" transform="rotate(134.5 557.4 223.5)" fill="#fff" stroke="#1a1a1a" stroke-width="1.0"/>
<ellipse cx="557.4" cy="223.5" rx="5.1" ry="13.3" transform="rotate(134.5 557.4 223.5)" fill="none" stroke="#1a1a1a" stroke-width="0.6"/>
<path d="M550.7 216.8L527.5 240.4A3.6 9.5 134.5 0 0 541.1 253.7L564.2 230.2A3.6 9.5 134.5 0 0 550.7 216.8Z" fill="#fff" stroke="#1a1a1a" stroke-width="1.0"/>
<ellipse cx="534.3" cy="247" rx="3.6" ry="9.5" transform="rotate(134.5 534.3 247)" fill="#fff" stroke="#1a1a1a" stroke-width="1.0"/>
<ellipse cx="534.3" cy="247" rx="3" ry="7.8" transform="rotate(134.5 534.3 247)" fill="none" stroke="#1a1a1a" stroke-width="0.6"/>
<path d="M531.4 244.2L524.4 251.4A1.5 4 134.5 0 0 530.1 257L537.2 249.8A1.5 4 134.5 0 0 531.4 244.2Z" fill="#fff" stroke="#1a1a1a" stroke-width="1.0"/>
<ellipse cx="527.3" cy="254.2" rx="1.5" ry="4" transform="rotate(134.5 527.3 254.2)" fill="#fff" stroke="#1a1a1a" stroke-width="1.0"/>
<path d="M580.6 169.2A8.2 21.5 134.5 0 1 611.3 199.3" fill="none" stroke="#1a1a1a" stroke-width="1.3"/>
<path d="M578.5 171.3A8.2 21.5 134.5 0 1 609.2 201.5" fill="none" stroke="#1a1a1a" stroke-width="1.0"/>
<path d="M575.9 174.3A8.1 21.3 134.5 0 1 606.3 204.2" fill="none" stroke="#1a1a1a" stroke-width="1.0"/>
<path d="M573.6 176.3A8.2 21.5 134.5 0 1 604.3 206.5" fill="none" stroke="#1a1a1a" stroke-width="1.2"/>
<ellipse cx="570" cy="193" rx="6" ry="11" transform="rotate(-45 570 193)" fill="#fff" stroke="#1a1a1a" stroke-width="1.0"/>
<path d="M566 205L573 198L577 202L570 209Z" fill="#fff" stroke="#1a1a1a" stroke-width="0.8"/>
<path d="M579 214L593 206L594 222L584 229Z" fill="#fff" stroke="#1a1a1a" stroke-width="1.0"/>
<path d="M548 222L536 240M551 226L539 244M555 229L543 247" fill="none" stroke="#1a1a1a" stroke-width="0.8"/>
<path d="M620.1 172.8L616.6 176.4L614.1 174L617.6 170.4" fill="#fff" stroke="#1a1a1a" stroke-width="0.8"/>
<path d="M609.4 162.4L605.9 165.9L603.5 163.5L607 160" fill="#fff" stroke="#1a1a1a" stroke-width="0.8"/>
<ellipse cx="590" cy="176" rx="1.4" ry="1.1" fill="#222"/><ellipse cx="603" cy="178" rx="1.4" ry="1.1" fill="#222"/>
<path d="M691.3 67L675.6 79.4A5.3 14 141.7 0 0 693 101.4L708.7 89A5.3 14 141.7 0 0 691.3 67Z" fill="#fff" stroke="#1a1a1a" stroke-width="1.0"/>
<ellipse cx="684.3" cy="90.4" rx="5.3" ry="14" transform="rotate(141.7 684.3 90.4)" fill="#fff" stroke="#1a1a1a" stroke-width="1.0"/>
<ellipse cx="684.3" cy="90.4" rx="4.7" ry="12.3" transform="rotate(141.7 684.3 90.4)" fill="none" stroke="#1a1a1a" stroke-width="0.6"/>
<path d="M669.7 72L655.6 83.1A8.9 23.5 141.7 0 0 684.7 120L698.9 108.8A8.9 23.5 141.7 0 0 669.7 72Z" fill="#fff" stroke="#1a1a1a" stroke-width="1.0"/>
<ellipse cx="670.2" cy="101.6" rx="8.9" ry="23.5" transform="rotate(141.7 670.2 101.6)" fill="#fff" stroke="#1a1a1a" stroke-width="1.0"/>
<ellipse cx="670.2" cy="101.6" rx="8.3" ry="21.8" transform="rotate(141.7 670.2 101.6)" fill="none" stroke="#1a1a1a" stroke-width="0.6"/>
<path d="M665.8 75.1A8.9 23.5 141.7 0 1 694.9 111.9" fill="none" stroke="#1a1a1a" stroke-width="1.4"/>
<path d="M663.8 77.3A8.7 23 141.7 0 1 692.3 113.4" fill="none" stroke="#1a1a1a" stroke-width="1.0"/>
<path d="M661.7 79.6A8.6 22.5 141.7 0 1 689.6 114.9" fill="none" stroke="#1a1a1a" stroke-width="1.0"/>
<path d="M659.1 81A8.7 23 141.7 0 1 687.6 117.1" fill="none" stroke="#1a1a1a" stroke-width="1.3"/>
<path d="M710.2 82.3L706.3 85.4L704.2 82.7L708.1 79.6" fill="#fff" stroke="#1a1a1a" stroke-width="0.8"/>
<path d="M700.3 69.7L696.4 72.8L694.3 70.1L698.2 67" fill="#fff" stroke="#1a1a1a" stroke-width="0.8"/>
<path d="M597 133L601 124L614 107L624 95L635 89L650 87L661 89L672 96L682 108L688 120L689 130L686 137L681 143L681 146L672 158L660 171L648 183L640 182L627 177L633 170L642 162L645 155L638 146L634 132L630 126L624 127L618 135L610 143L604 144L598 139Z" fill="#fff" stroke="#1a1a1a" stroke-width="1.0"/>
<path d="M624 95L622 104L636 115M661.5 90L636 124.5L650 152.5L682.5 138.5M636 124.5Q630 118 624 127M622 104L612 117" fill="none" stroke="#1a1a1a" stroke-width="0.85"/>
<path d="M668 137L671 134L676 137L680 136" fill="none" stroke="#1a1a1a" stroke-width="0.8"/>
<path d="M600 134L607 143M603 128L610 141M612 114L620 129M614 111L622 126M617 108L625 122" fill="none" stroke="#1a1a1a" stroke-width="1.1"/>
<path d="M636 160L652 153M637 163L653 156M638 166L654 159M633 170L650 163" fill="none" stroke="#1a1a1a" stroke-width="0.7"/>
<path d="M627 177L645 172L648 183M645 172L660 158" fill="none" stroke="#1a1a1a" stroke-width="0.8"/>
<path d="M503.7 396.9L489.3 392.7A1.3 4 196.3 0 0 487.1 400.4L501.5 404.6A1.3 4 196.3 0 0 503.7 396.9Z" fill="#fff" stroke="#1a1a1a" stroke-width="1.0"/>
<ellipse cx="502.6" cy="400.7" rx="1.3" ry="4" transform="rotate(196.3 502.6 400.7)" fill="#fff" stroke="#1a1a1a" stroke-width="1.0"/>
<path d="M546.9 399.1L505.1 392.1A2.9 9 196.3 0 0 500.1 409.4L539 425.9A4.5 14 196.3 0 0 546.9 399.1Z" fill="#fff" stroke="#1a1a1a" stroke-width="1.0"/>
<ellipse cx="542.9" cy="412.5" rx="4.5" ry="14" transform="rotate(196.3 542.9 412.5)" fill="#fff" stroke="#1a1a1a" stroke-width="1.0"/>
<ellipse cx="542.9" cy="412.5" rx="3.9" ry="12.3" transform="rotate(196.3 542.9 412.5)" fill="none" stroke="#1a1a1a" stroke-width="0.6"/>
<path d="M570.2 393.9L550.1 388A8.2 25.5 196.3 0 0 535.8 437L555.9 442.9A8.2 25.5 196.3 0 0 570.2 393.9Z" fill="#fff" stroke="#1a1a1a" stroke-width="1.0"/>
<ellipse cx="563.1" cy="418.4" rx="8.2" ry="25.5" transform="rotate(196.3 563.1 418.4)" fill="#fff" stroke="#1a1a1a" stroke-width="1.0"/>
<ellipse cx="563.1" cy="418.4" rx="7.6" ry="23.8" transform="rotate(196.3 563.1 418.4)" fill="none" stroke="#1a1a1a" stroke-width="0.6"/>
<path d="M576 399.3L569.3 397.3A7 22 196.3 0 0 556.9 439.5L563.6 441.5A7 22 196.3 0 0 576 399.3Z" fill="#fff" stroke="#1a1a1a" stroke-width="1.0"/>
<ellipse cx="569.8" cy="420.4" rx="7" ry="22" transform="rotate(196.3 569.8 420.4)" fill="#fff" stroke="#1a1a1a" stroke-width="1.0"/>
<ellipse cx="569.8" cy="420.4" rx="6.5" ry="20.3" transform="rotate(196.3 569.8 420.4)" fill="none" stroke="#1a1a1a" stroke-width="0.6"/>
<path d="M588.2 403.9L575.7 400.2A6.7 21 196.3 0 0 563.9 440.5L576.4 444.2A6.7 21 196.3 0 0 588.2 403.9Z" fill="#fff" stroke="#1a1a1a" stroke-width="1.0"/>
<ellipse cx="582.3" cy="424" rx="6.7" ry="21" transform="rotate(196.3 582.3 424)" fill="#fff" stroke="#1a1a1a" stroke-width="1.0"/>
<ellipse cx="582.3" cy="424" rx="6.2" ry="19.3" transform="rotate(196.3 582.3 424)" fill="none" stroke="#1a1a1a" stroke-width="0.6"/>
<path d="M600.3 405.3L588.7 401.9A7.4 23 196.3 0 0 575.8 446.1L587.3 449.5A7.4 23 196.3 0 0 600.3 405.3Z" fill="#fff" stroke="#1a1a1a" stroke-width="1.0"/>
<ellipse cx="593.8" cy="427.4" rx="7.4" ry="23" transform="rotate(196.3 593.8 427.4)" fill="#fff" stroke="#1a1a1a" stroke-width="1.0"/>
<ellipse cx="593.8" cy="427.4" rx="6.8" ry="21.3" transform="rotate(196.3 593.8 427.4)" fill="none" stroke="#1a1a1a" stroke-width="0.6"/>
<path d="M617.2 418.6L598 413A4.8 15 196.3 0 0 589.6 441.8L608.8 447.4A4.8 15 196.3 0 0 617.2 418.6Z" fill="#fff" stroke="#1a1a1a" stroke-width="1.0"/>
<ellipse cx="613" cy="433" rx="4.8" ry="15" transform="rotate(196.3 613 433)" fill="#fff" stroke="#1a1a1a" stroke-width="1.0"/>
<ellipse cx="613" cy="433" rx="4.3" ry="13.3" transform="rotate(196.3 613 433)" fill="none" stroke="#1a1a1a" stroke-width="0.6"/>
<ellipse cx="613" cy="433" rx="3.8" ry="12" transform="rotate(196.3 613 433)" fill="#fff" stroke="#1a1a1a" stroke-width="0.8"/>
<path d="M584.3 402.7A6.7 21 196.3 0 0 572.6 443.1" fill="none" stroke="#1a1a1a" stroke-width="1.0"/>
<path d="M581.5 401.9A6.7 21 196.3 0 0 569.7 442.2" fill="none" stroke="#1a1a1a" stroke-width="1.3"/>
<path d="M567.4 393.1A8.2 25.5 196.3 0 0 553.1 442" fill="none" stroke="#1a1a1a" stroke-width="1.0"/>
<path d="M595.5 403.9A7.4 23 196.3 0 0 582.5 448.1" fill="none" stroke="#1a1a1a" stroke-width="1.0"/>
<ellipse cx="560" cy="399" rx="1.8" ry="1.4" fill="#222"/><ellipse cx="549" cy="431" rx="1.8" ry="1.4" fill="#222"/>
<path d="M618.4 421L612.7 419.3L613.6 416L619.4 417.7" fill="#fff" stroke="#1a1a1a" stroke-width="0.8"/>
<path d="M610.1 449.4L604.4 447.7L605.3 444.3L611.1 446" fill="#fff" stroke="#1a1a1a" stroke-width="0.8"/>
<path d="M585 403Q590 398 595 402L596 409Q590 412 585 408Z" fill="#fff" stroke="#1a1a1a" stroke-width="1.0"/>
<path d="M484.5 392.5L500 397.5L498 403L483.5 398.5Z" fill="#222"/>
<path d="M503 396L520 398M503 400L520 404M505 408L522 410M505 412L522 416" fill="none" stroke="#1a1a1a" stroke-width="0.9"/>
<g fill="none" stroke="#2a2a2a" stroke-width="0.8">
<path d="M48 328.4H98.3L130.4 297.1"/>
<path d="M118.7 410.5H186.8M118.7 410.5L144.6 313.8"/>
<path d="M214.3 421.4H281.8M214.3 421.4L239.8 325.7"/>
<path d="M291.3 440H346.9M291.3 440V357"/>
<path d="M297.5 171.3H360.6M297.5 171.3L317 276"/>
<path d="M399.5 144.1H468M399.5 144.1L424 252"/>
<path d="M468 172.2H522.6M468 172.2L443.5 211"/>
<path d="M574.6 305.8H616.5M574.6 305.8L475.7 328.4"/>
<path d="M743.6 92H801.7M743.6 92L697.8 108.5"/>
<path d="M688.4 207.5H761.7M688.4 207.5L590.3 229.8"/>
<path d="M631.3 275.6H692.9M631.3 275.6L533 257.5"/>
<path d="M660.6 386.3H718.9M660.6 386.3L587 403.5"/>
<path d="M702.4 400.2H756.5M702.4 400.2L617.8 418.8"/>
</g>
<circle cx="475.7" cy="328.4" r="0.9" fill="#222"/>
<g font-size="6.6" fill="#333">
<text x="48.1" y="326.9" textLength="38.5" lengthAdjust="spacingAndGlyphs">CK00131-0002</text>
<text x="144.2" y="409.5" textLength="42.6" lengthAdjust="spacingAndGlyphs">RM00462-0000</text>
<text x="240" y="419.8" textLength="41.8" lengthAdjust="spacingAndGlyphs">DR00234-0000</text>
<text x="305.6" y="438.1" textLength="41.3" lengthAdjust="spacingAndGlyphs">RM00471-0000</text>
<text x="318.7" y="169.8" textLength="41.9" lengthAdjust="spacingAndGlyphs">RM00461-0000</text>
<text x="425.5" y="142.8" textLength="42.5" lengthAdjust="spacingAndGlyphs">RM00460-0000</text>
<text x="483" y="170.1" textLength="39.6" lengthAdjust="spacingAndGlyphs">CK00131-0002</text>
<text x="590.8" y="304.3" textLength="25.7" lengthAdjust="spacingAndGlyphs">A0051135</text>
<text x="761.4" y="90.4" textLength="39.6" lengthAdjust="spacingAndGlyphs">ML00118-0000</text>
<text x="704.4" y="179.4" textLength="42.3" lengthAdjust="spacingAndGlyphs">RM00467-0000</text>
<text x="704.4" y="188.5" textLength="55.7" lengthAdjust="spacingAndGlyphs">(1 X)  IN00070-0000</text>
<text x="704.4" y="197.0" textLength="56.8" lengthAdjust="spacingAndGlyphs">(5 X)  IS00084-0000</text>
<text x="704.4" y="206.0" textLength="55.6" lengthAdjust="spacingAndGlyphs">(1 X)  IS00085-0000</text>
<text x="652.7" y="273.5" textLength="40.2" lengthAdjust="spacingAndGlyphs">ML00201-0000</text>
<text x="676.7" y="385.0" textLength="42.2" lengthAdjust="spacingAndGlyphs">RM00463-0000</text>
<text x="718.0" y="398.9" textLength="38.5" lengthAdjust="spacingAndGlyphs">CK00131-0002</text>
</g>
</g>
<!--/PARTS-->
<!-- TITLE BLOCK -->
<g id="tb">
<rect x="582" y="508" width="235" height="69.5" fill="#fff" stroke="none"/>
<g fill="none" stroke="#333" stroke-width="1.4">
<path d="M582 508H817M582 508V577.5" stroke-width="1.8"/>
<path d="M582 521.8H817M582 535.7H817M651.3 549.4H817M651.3 563.2H817"/>
<path d="M605.4 508V521.8M628.6 508V521.8M651.3 508V577.5M681.7 508V521.8M716.5 508V521.8M789.8 508V521.8"/>
<path d="M692.8 521.8V535.7M733.9 521.8V535.7"/>
<path d="M755 549.4V577.5M776.2 563.2V577.5M796.3 563.2V577.5"/>
</g>
<g font-size="3.2" fill="#555">
<text x="583.5" y="512.5">Disegnato</text><text x="607" y="512.5">Controllato</text><text x="630" y="512.5">Approvato</text>
<text x="653" y="512.5">Data</text>
<text x="718" y="512.5">Riferimento Cliente</text>
<text x="583.5" y="525.8">Materiale da lavorare</text><text x="653" y="525.8">Sovrametallo diametri</text><text x="694.3" y="525.8">Sovrametallo piani</text>
<text x="653" y="539.6">Descrizione</text><text x="653" y="553.3">Materiale</text><text x="756.5" y="553.3">Trattamento / Rivestimento</text>
<text x="653" y="567">Codice</text>
<text x="765.6" y="567.2" text-anchor="middle">Scala</text><text x="786.2" y="567.2" text-anchor="middle">Indice</text><text x="806.6" y="567.2" text-anchor="middle">Foglio</text>
<text x="791" y="511.8" font-size="2.6">Simbolo</text><text x="804" y="511.8" font-size="2.6">Simbolo</text>
</g>
<g font-size="2.4" fill="#444" text-anchor="middle">
<text x="699" y="510.8">Tolleranze non indicate di lavorazione</text>
<text x="699" y="514.6" font-size="3">Grado di precisione fine</text>
</g>
<g fill="#222">
<text x="583.8" y="520.4" font-size="6.4" fill="#333">cb</text><text x="607.2" y="520.4" font-size="6.4" fill="#333">rb</text><text x="630.2" y="520.4" font-size="6.4" fill="#333">rb</text>
<text x="652.8" y="519.8" font-size="6" textLength="28" lengthAdjust="spacingAndGlyphs">05/05/2015</text>
<text x="683" y="519.6" font-size="4.2" textLength="32" lengthAdjust="spacingAndGlyphs">UNI EN 22768-fH</text>
<text x="736" y="526.3" font-size="4.5" fill="#444" textLength="52" lengthAdjust="spacingAndGlyphs">Spallatura ISO1940 quanto G2.5</text>
<text x="740" y="532.8" font-size="4.5" fill="#444">giri/min</text>
<text x="656" y="532.8" font-size="3.6" fill="#444">nnn</text><text x="697" y="532.8" font-size="3.6" fill="#444">nnn</text>
<text x="653.3" y="574.2" font-size="7.6" fill="#333" textLength="69.5" lengthAdjust="spacingAndGlyphs">Pinion housing machined</text>
<text x="765.6" y="575.2" font-size="6.2" text-anchor="middle">1 : 2</text>
<text x="786.2" y="575.2" font-size="6.2" text-anchor="middle">0A</text>
<text x="806.6" y="575.2" font-size="6.2" text-anchor="middle">1 / 1</text>
</g>
<!-- projection symbol -->
<g fill="none" stroke="#222" stroke-width="0.9">
<path d="M792 514.5L802 512.2V520.6L792 518.3Z"/>
<path d="M790.5 516.4H815.5"/>
<circle cx="810" cy="516.4" r="4.3"/><circle cx="810" cy="516.4" r="2.4"/>
</g>
<!-- logo -->
<g id="logo">
<path d="M584.5 560.2L589.5 551.5H606.8L611.8 560.2Z" fill="#1e1e1e"/>
<rect x="588.8" y="555" width="18" height="1.7" fill="#fff"/>
<path d="M597.9 536.2L600.9 541.4H594.9Z" fill="#1e1e1e"/>
<rect x="597" y="540.5" width="1.9" height="15" fill="#1e1e1e"/>
<rect x="587.6" y="541.6" width="9" height="12.4" rx="2.6" fill="#fff" stroke="#1e1e1e" stroke-width="1.5"/>
<rect x="599.3" y="541.6" width="9" height="12.4" rx="2.6" fill="#fff" stroke="#1e1e1e" stroke-width="1.5"/>
<path d="M587.8 547.8H596.5M599.4 547.8H608.2" stroke="#1e1e1e" stroke-width="1.1"/>
<path d="M589.5 543.4h2.6v2.8h-2.6zM593.3 543.4h2v2.8h-2zM600.6 543.4h2v2.8h-2zM603.8 543.4h2.6v2.8h-2.6z" fill="#555"/>
<path d="M589.5 549.4h2.6v3h-2.6zM593.3 549.4h2v3h-2zM600.6 549.4h2v3h-2zM603.8 549.4h2.6v3h-2.6z" fill="#444"/>
<path d="M590 552.2l2-2v2zM604 552.2l2-2v2z" fill="#fff"/>
<path d="M586 558.4H610.4" stroke="#fff" stroke-width="0.5" stroke-dasharray="1 0.8"/>
<text x="618.8" y="548.8" font-size="13.6" fill="#2a2a2a" textLength="23" lengthAdjust="spacingAndGlyphs">B  B</text>
<text x="628.4" y="546.2" font-size="4.4" fill="#2a2a2a">&amp;</text>
<text x="612" y="554.2" font-size="3.4" fill="#555" textLength="37" lengthAdjust="spacingAndGlyphs">Präzisionswerkzeuge</text>
<text x="612.5" y="557.8" font-size="3" fill="#444" textLength="36" lengthAdjust="spacingAndGlyphs">Utensili Speciali di Precisione</text>
<text x="617" y="565.8" font-size="3.3" fill="#555" text-anchor="middle" textLength="58" lengthAdjust="spacingAndGlyphs">Via Italia, 197 - 20874 Busnago (MB)</text>
<text x="617" y="569.8" font-size="3.3" fill="#555" text-anchor="middle" textLength="63" lengthAdjust="spacingAndGlyphs">Tel. +39 039 6820663 fax +39 039 6823486</text>
<text x="617" y="573.9" font-size="3.3" fill="#555" text-anchor="middle" textLength="68" lengthAdjust="spacingAndGlyphs">e-mail info@babsystem.it | www.babsystem.it</text>
</g>
</g>
</svg>
</body></html>
